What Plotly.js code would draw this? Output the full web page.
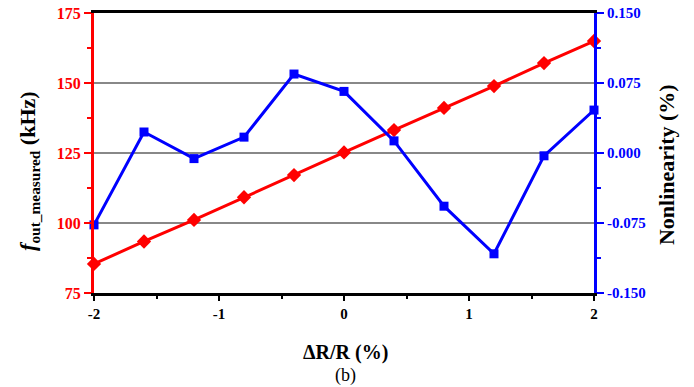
<!DOCTYPE html>
<html>
<head>
<meta charset="utf-8">
<script src="https://cdn.plot.ly/plotly-3.0.1.min.js"></script>
<style>html,body{margin:0;padding:0;background:#fff;}#chart{width:694px;height:387px;}</style>
</head>
<body>
<div id="chart"></div>
<script>
const deltaR = [-2, -1.6, -1.2, -0.8, -0.4, 0, 0.4, 0.8, 1.2, 1.6, 2];
const fOut = [85.4, 93.4, 101.1, 109.2, 117.1, 125.2, 133.2, 141.1, 148.9, 157.1, 165.0];
const nonlin = [-0.077, 0.0225, -0.006, 0.017, 0.0846, 0.066, 0.013, -0.057, -0.108, -0.003, 0.046];

const xTickVals = [-2, -1, 0, 1, 2];
const xTickText = ['-2', '-1', '0', '1', '2'];
const yTickVals = [75, 100, 125, 150, 175];
const yTickText = ['75', '100', '125', '150', '175'];
const y2TickVals = [-0.15, -0.075, 0, 0.075, 0.15];
const y2TickText = ['-0.150', '-0.075', '0.000', '0.075', '0.150'];

const FONT = '"Liberation Serif", serif';

const traces = [
  {
    x: deltaR, y: fOut, type: 'scatter', mode: 'lines+markers',
    line: {color: '#ff0000', width: 3},
    marker: {symbol: 'diamond', size: 11, color: '#ff0000'},
    yaxis: 'y', cliponaxis: false
  },
  {
    x: deltaR, y: nonlin, type: 'scatter', mode: 'lines+markers',
    line: {color: '#0000ff', width: 3},
    marker: {symbol: 'square', size: 9, color: '#0000ff'},
    yaxis: 'y2', cliponaxis: false
  }
];

const layout = {
  width: 694, height: 387,
  margin: {l: 94, r: 100, t: 13, b: 94},
  paper_bgcolor: '#fff', plot_bgcolor: '#fff',
  showlegend: false,
  font: {family: FONT},
  xaxis: {
    range: [-2, 2], tickvals: xTickVals, ticktext: xTickText,
    showline: true, linecolor: '#000', linewidth: 3, mirror: true,
    ticks: 'outside', ticklen: 5, tickwidth: 2, tickcolor: '#000',
    minor: {dtick: 0.5, ticks: 'outside', ticklen: 3, tickwidth: 2, tickcolor: '#000', showgrid: false},
    showgrid: false, zeroline: false,
    tickfont: {family: FONT, size: 15, color: '#000', weight: 'bold'}
  },
  yaxis: {
    range: [75, 175], tickvals: yTickVals, ticktext: yTickText,
    showline: true, linecolor: '#ff0000', linewidth: 3,
    ticks: 'outside', ticklen: 7, tickwidth: 2, tickcolor: '#ff0000',
    minor: {dtick: 12.5, tick0: 75, ticks: 'outside', ticklen: 4, tickwidth: 2, tickcolor: '#ff0000', showgrid: false},
    showgrid: true, gridcolor: '#888888', gridwidth: 2, zeroline: false,
    tickfont: {family: FONT, size: 16, color: '#ff0000', weight: 'bold'}
  },
  yaxis2: {
    range: [-0.15, 0.15], tickvals: y2TickVals, ticktext: y2TickText,
    overlaying: 'y', side: 'right',
    showline: true, linecolor: '#0000ff', linewidth: 3,
    ticks: 'outside', ticklen: 7, tickwidth: 2, tickcolor: '#0000ff',
    minor: {dtick: 0.0375, tick0: -0.15, ticks: 'outside', ticklen: 4, tickwidth: 2, tickcolor: '#0000ff', showgrid: false},
    showgrid: false, zeroline: false,
    tickfont: {family: FONT, size: 15, color: '#0000ff', weight: 'bold'}
  },
  annotations: [
    {
      text: '<i>f</i><sub>out_measured</sub> (kHz)',
      xref: 'paper', yref: 'paper', x: -0.13, y: 0.436,
      xanchor: 'center', yanchor: 'middle', textangle: -90, showarrow: false,
      font: {family: FONT, size: 22, color: '#000', weight: 'bold'}
    },
    {
      text: 'Nonlinearity (%)',
      xref: 'paper', yref: 'paper', x: 1.144, y: 0.457,
      xanchor: 'center', yanchor: 'middle', textangle: -90, showarrow: false,
      font: {family: FONT, size: 22, color: '#000', weight: 'bold'}
    },
    {
      text: 'ΔR/R (%)',
      xref: 'paper', yref: 'paper', x: 0.502, y: -0.211,
      xanchor: 'center', yanchor: 'middle', showarrow: false,
      font: {family: FONT, size: 20, color: '#000', weight: 'bold'}
    },
    {
      text: '(b)',
      xref: 'paper', yref: 'paper', x: 0.502, y: -0.293,
      xanchor: 'center', yanchor: 'middle', showarrow: false,
      font: {family: FONT, size: 18, color: '#000'}
    }
  ]
};

Plotly.newPlot('chart', traces, layout, {displayModeBar: false, staticPlot: true});
</script>
</body>
</html>
